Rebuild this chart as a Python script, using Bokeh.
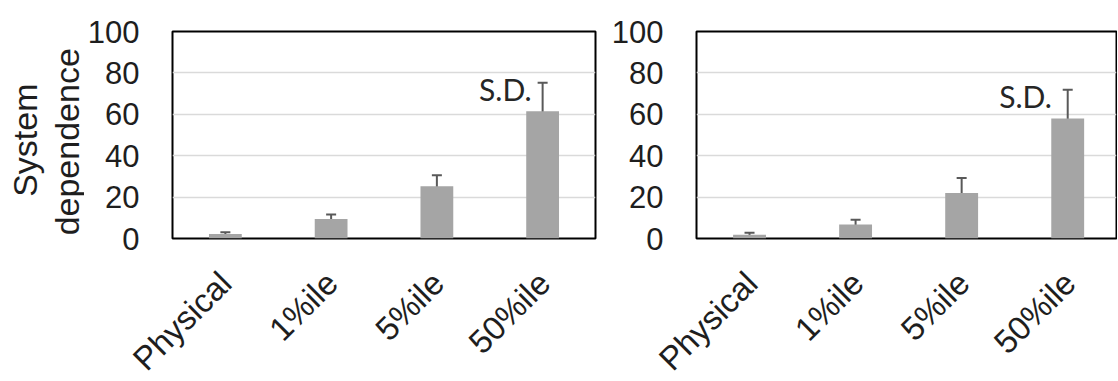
import math
from bokeh.plotting import figure
from bokeh.models import (ColumnDataSource, Whisker, TeeHead, Label,
                          Range1d, FixedTicker)
from bokeh.layouts import row, column
from bokeh.embed import file_html
from bokeh.resources import INLINE
from bokeh.core.properties import value

# ---- data ----
categories = ["Physical", "1%ile", "5%ile", "50%ile"]
left_mean = [2.2, 9.4, 25.2, 61.5]
left_sd = [0.8, 2.2, 5.3, 13.8]
right_mean = [1.8, 6.8, 22.0, 58.0]
right_sd = [1.0, 2.2, 7.2, 13.8]
y_ticks = [0, 20, 40, 60, 80, 100]
y_title = "System\ndependence"
sd_text = "S.D."

BAR = "#a5a5a5"
ERR = "#595959"
TXT = "#1e1e1e"
FONT = "Liberation Sans"
TOP_H = 260          # height of the chart row
STRIP_H = 120        # height of the category-label strips below
TITLE_W = 84         # width of the y-title strip


def make_panel(mean, sd, width, bl, br, bt, bb, x_end, sd_y, sd_xoff):
    idx = list(range(len(categories)))
    src = ColumnDataSource(dict(
        x=idx, top=mean,
        upper=[m + s for m, s in zip(mean, sd)],
        lower=[m - s for m, s in zip(mean, sd)],
    ))
    p = figure(width=width, height=TOP_H, x_range=Range1d(-0.5, x_end),
               y_range=Range1d(0, 100), output_backend="svg",
               toolbar_location=None, min_border_left=bl,
               min_border_right=br, min_border_top=bt, min_border_bottom=bb)
    p.vbar(x="x", top="top", width=0.31, source=src, fill_color=BAR,
           line_color=None)
    w = Whisker(base="x", upper="upper", lower="lower", source=src,
                line_color=ERR, line_width=2)
    w.upper_head = TeeHead(size=10, line_color=ERR, line_width=2)
    w.lower_head = TeeHead(size=10, line_color=ERR, line_width=2)
    p.add_layout(w)
    p.xaxis.visible = False

    p.yaxis.ticker = FixedTicker(ticks=y_ticks)
    p.yaxis.major_tick_out = 0
    p.yaxis.major_tick_in = 0
    p.yaxis.minor_tick_out = 0
    p.yaxis.minor_tick_in = 0
    p.yaxis.major_label_standoff = 33
    p.yaxis.major_label_text_font = FONT
    p.yaxis.major_label_text_font_size = "31px"
    p.yaxis.major_label_text_color = TXT
    p.yaxis.axis_line_color = None
    p.yaxis.major_tick_line_color = None
    p.yaxis.minor_tick_line_color = None

    p.xgrid.grid_line_color = None
    p.ygrid.grid_line_color = "#dadada"
    p.ygrid.grid_line_width = 1.5
    p.outline_line_color = "black"
    p.outline_line_width = 2
    p.background_fill_color = "white"
    p.border_fill_color = "white"

    p.add_layout(Label(x=idx[-1], y=sd_y, x_offset=sd_xoff, text=sd_text,
                       text_align="right", text_baseline="alphabetic",
                       text_font="Lato", text_font_size="30px",
                       text_color="#262626"))
    return p


def make_strip(width, frame_left, frame_right, x_end, top_gap):
    """Strip below a chart that carries its rotated category labels, using
    the same horizontal scale as the chart frame above it."""
    scale = (frame_right - frame_left) / (x_end + 0.5)
    x0 = -0.5 - frame_left / scale
    x1 = x0 + width / scale
    s = figure(width=width, height=STRIP_H, x_range=Range1d(x0, x1),
               y_range=Range1d(-STRIP_H, 0), output_backend="svg",
               toolbar_location=None, x_axis_type=None, y_axis_type=None,
               min_border=0)
    s.min_border_left = s.min_border_right = 0
    s.min_border_top = s.min_border_bottom = 0
    s.outline_line_color = None
    s.grid.grid_line_color = None
    s.text(x=list(range(len(categories))), y=[0] * len(categories),
           text=categories, x_offset=2, y_offset=top_gap, angle=math.pi / 4,
           text_align="right", text_baseline="middle",
           text_font=value(FONT), text_font_size="33px", text_color=TXT)
    return s


def make_title_strip():
    """Narrow strip left of the first chart with the two-line y title."""
    t = figure(width=TITLE_W, height=TOP_H, x_range=Range1d(0, TITLE_W),
               y_range=Range1d(TOP_H, 0), output_backend="svg",
               toolbar_location=None, x_axis_type=None, y_axis_type=None,
               min_border=0)
    t.min_border_left = t.min_border_right = 0
    t.min_border_top = t.min_border_bottom = 0
    t.outline_line_color = None
    t.grid.grid_line_color = None
    lines = y_title.split("\n")
    t.text(x=[24, 66], y=[136.5, 138.5], text=lines, angle=math.pi / 2,
           text_align="center", text_baseline="middle",
           text_font=value(FONT), text_font_size="34px", text_color=TXT)
    return t


t = make_title_strip()
p1 = make_panel(left_mean, left_sd, 600 - TITLE_W, 170 - TITLE_W, 5, 31,
                TOP_H - 238, 3.5, 72.3, -11)
p2 = make_panel(right_mean, right_sd, 517, 96, 1, 28, TOP_H - 241, 3.46,
                69.0, -16)
s1 = make_strip(600, 170, 595, 3.5, 277 - TOP_H)
s2 = make_strip(517, 96, 516, 3.46, 277 - TOP_H)

layout = column(row(t, p1, p2), row(s1, s2))
open("out.html", "w").write(file_html(layout, INLINE))
